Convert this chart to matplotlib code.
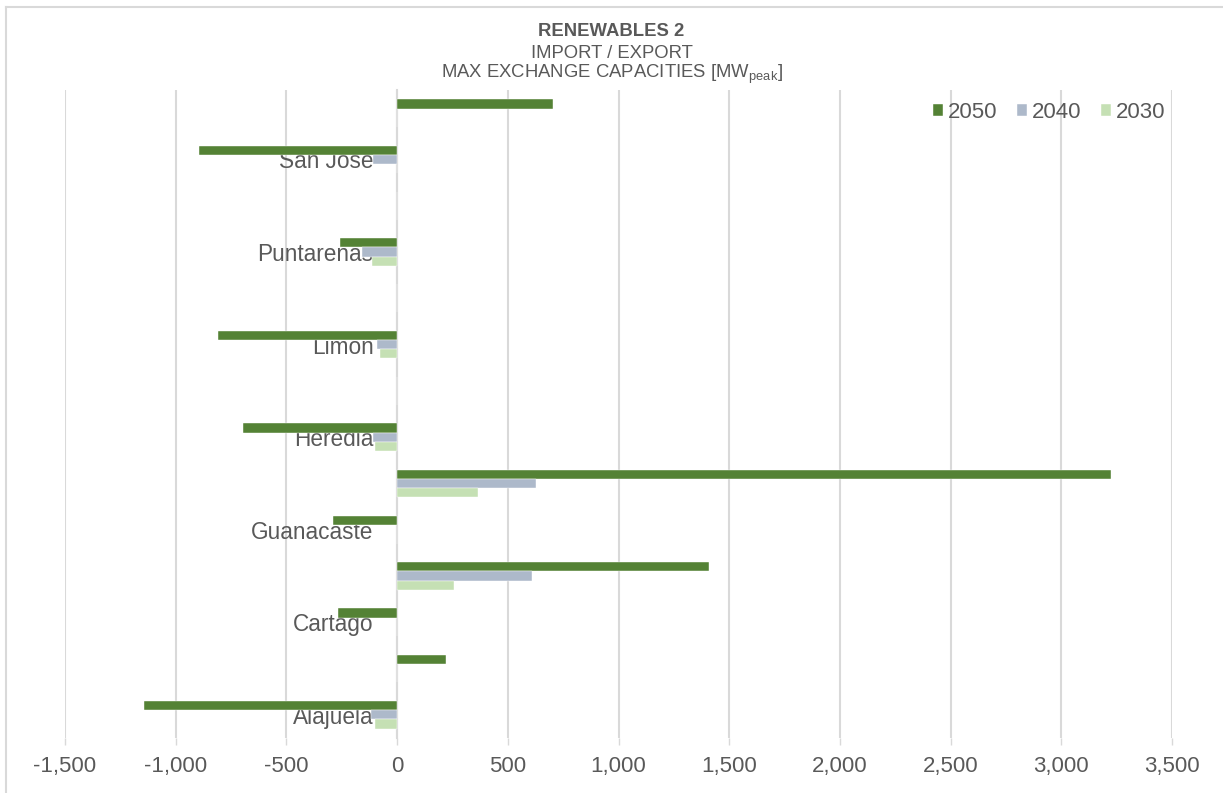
import numpy as np
import matplotlib
matplotlib.use("Agg")
import matplotlib.pyplot as plt
from matplotlib.lines import Line2D

plt.rcParams['font.family'] = ['Liberation Sans', 'DejaVu Sans']
plt.rcParams['mathtext.fontset'] = 'custom'
plt.rcParams['mathtext.rm'] = 'Liberation Sans'

# rows from bottom to top, only every other row carries a label
labels = ['Alajuela', '', 'Cartago', '', 'Guanacaste', '', 'Heredia', '',
          'Limon', '', 'Puntarenas', '', 'San Jose', '']
v2050 = [-1144, 219, -267, 1407, -288, 3225, -698, 0, -808, 0, -257, 0, -895, 705]
v2040 = [-120, 0, 0, 608, 0, 626, -110, 0, -93, 0, -160, 0, -110, 0]
v2030 = [-100, 0, 0, 258, 0, 365, -100, 0, -75, 0, -112, 0, 0, 0]
years = ['2050', '2040', '2030']
colors = ['#548235', '#ADB9CA', '#C5E0B4']
text_col = '#595959'
grid_col = '#D9D9D9'

fig = plt.figure(figsize=(12.23, 7.93), dpi=100)
ax = fig.add_axes([65 / 1223, 55 / 793, 1107 / 1223, 648 / 793])

y = np.arange(len(labels))
h = 0.2
for vals, off, col, yr in zip([v2050, v2040, v2030], [h, 0, -h], colors, years):
    ax.barh(y + off, vals, height=h, color=col, label=yr, zorder=2,
            edgecolor='white', linewidth=0.3)

ax.set_xlim(-1500, 3500)
ax.set_ylim(-0.5, len(labels) - 0.5)
ax.set_xticks(np.arange(-1500, 3501, 500))
ax.set_xticklabels([f'{v:,}' for v in range(-1500, 3501, 500)])
ax.set_yticks(y)
ax.set_yticklabels(labels)

ax.grid(axis='x', color=grid_col, linewidth=1.5, zorder=0)
for s in ['top', 'right', 'bottom']:
    ax.spines[s].set_visible(False)
ax.spines['left'].set_position(('data', 0))
ax.spines['left'].set_color(grid_col)
ax.spines['left'].set_linewidth(1.5)
ax.spines['left'].set_zorder(1)

ax.tick_params(axis='y', length=0, pad=17, labelsize=16.3, labelcolor=text_col)
ax.tick_params(axis='x', length=5, width=1, color=grid_col, pad=8,
               labelsize=16, labelcolor=text_col)
for t in ax.get_yticklabels():
    t.set_zorder(5)

leg = ax.legend(loc='upper right', ncol=3, frameon=False, fontsize=16,
                handlelength=0.45, handleheight=0.45, handletextpad=0.2,
                columnspacing=0.9, bbox_to_anchor=(1.012, 1.012))
for t in leg.get_texts():
    t.set_color(text_col)

fig.text(0.5, 1 - 31 / 793, 'RENEWABLES 2', ha='center', va='center',
         fontsize=13.3, fontweight='bold', color=text_col)
fig.text(0.5, 1 - 53 / 793, 'IMPORT / EXPORT', ha='center', va='center',
         fontsize=13.3, color=text_col)
fig.text(0.5, 1 - 74 / 793, r'MAX EXCHANGE CAPACITIES [MW$_{\mathrm{peak}}$]',
         ha='center', va='center', fontsize=13.3, color=text_col)

# outer chart border (left and top visible)
fig.add_artist(Line2D([6 / 1223, 6 / 1223], [0, 1 - 7 / 793], color=grid_col, lw=1.5))
fig.add_artist(Line2D([6 / 1223, 1], [1 - 7 / 793, 1 - 7 / 793], color=grid_col, lw=1.5))

fig.savefig('out.png', dpi=100)
